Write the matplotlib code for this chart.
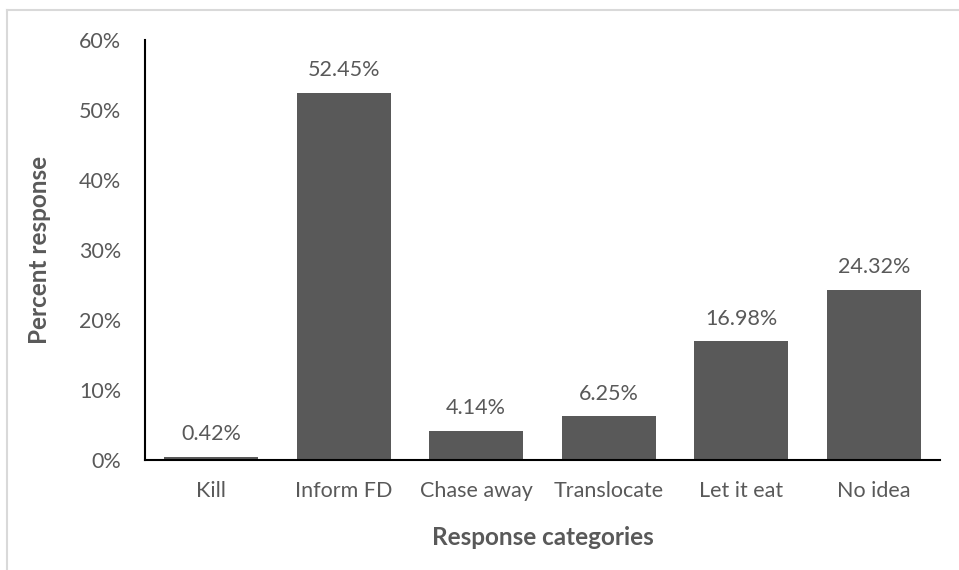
import matplotlib
matplotlib.use("Agg")
import matplotlib.pyplot as plt
from matplotlib.lines import Line2D

categories = ["Kill", "Inform FD", "Chase away", "Translocate", "Let it eat", "No idea"]
values = [0.42, 52.45, 4.14, 6.25, 16.98, 24.32]
yticks = [0, 10, 20, 30, 40, 50, 60]

plt.rcParams['font.family'] = ['Lato', 'DejaVu Sans']
txt = '#595959'

fig = plt.figure(figsize=(9.59, 5.70), dpi=100)
ax = fig.add_axes([145/959, 1-460/570, 795/959, 420/570])

x = range(len(categories))
ax.bar(x, values, width=0.71, color='#595959', zorder=2)
for i, v in zip(x, values):
    ax.text(i, v + 1.8, f"{v:.2f}%", ha='center', va='bottom', fontsize=15.5, color=txt)

ax.set_xlim(-0.5, len(categories) - 0.5)
ax.set_ylim(0, 60)
ax.set_yticks(yticks)
ax.set_yticklabels([f"{t}%" for t in yticks], fontsize=15.5, color=txt)
ax.set_xticks(list(x))
ax.set_xticklabels(categories, fontsize=15.5, color=txt)
ax.tick_params(axis='x', length=0, pad=15)
ax.tick_params(axis='y', length=0, pad=17)
for s in ['top', 'right']:
    ax.spines[s].set_visible(False)
ax.spines['left'].set_color('black')
ax.spines['bottom'].set_color('black')
ax.spines['left'].set_linewidth(1.5)
ax.spines['bottom'].set_linewidth(1.5)

ax.set_xlabel("Response categories", fontsize=17.5, fontweight='bold', color=txt, labelpad=18)
ax.set_ylabel("Percent response", fontsize=17.5, fontweight='bold', color=txt, labelpad=20)

# outer border
bx, by = 7/959, 1-10/570
fig.add_artist(Line2D([bx, bx], [0, by], transform=fig.transFigure, color='#d9d9d9', lw=1.5))
fig.add_artist(Line2D([bx, 1], [by, by], transform=fig.transFigure, color='#d9d9d9', lw=1.5))

fig.savefig("out.png", dpi=100)
